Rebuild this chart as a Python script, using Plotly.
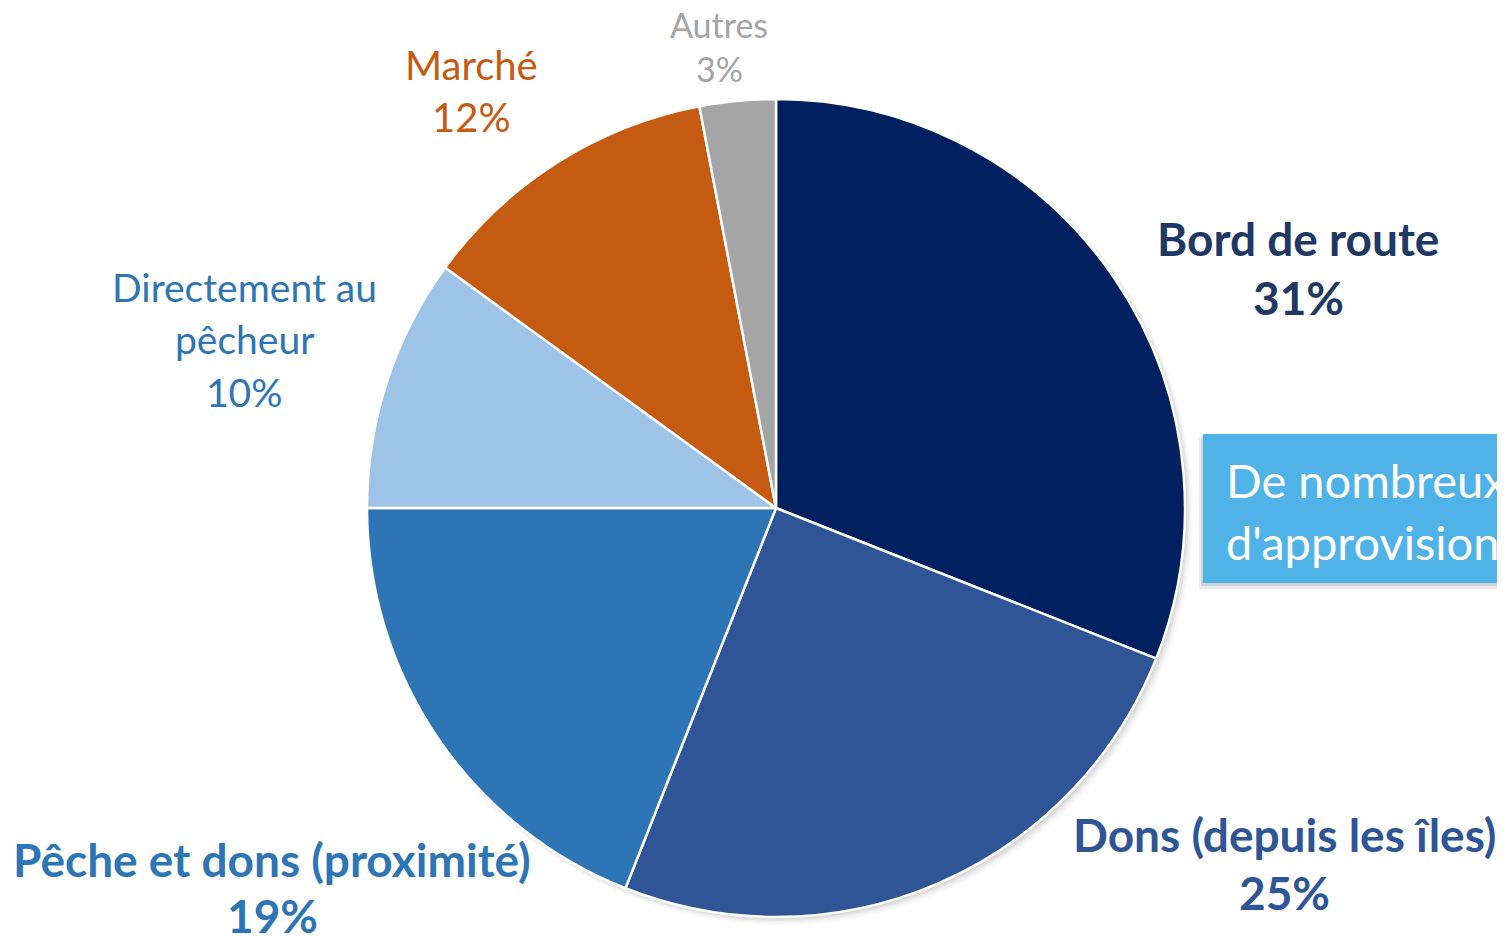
import plotly.graph_objects as go

# the page body has an 8px margin; the figure is offset so page == reference pixels
OFF = 8
W, H = 1505 - OFF, 936 - OFF

categories = ["Bord de route", "Dons (depuis les îles)", "Pêche et dons (proximité)",
              "Directement au pêcheur", "Marché", "Autres"]
values = [31, 25, 19, 10, 12, 3]
slice_colors = ["#012060", "#2F5597", "#2E75B6", "#9DC3E6", "#C55A11", "#A5A5A5"]

# label lines per category (text only)
label_lines = [
    ["Bord de route", "31%"],
    ["Dons (depuis les îles)", "25%"],
    ["Pêche et dons (proximité)", "19%"],
    ["Directement au", "pêcheur", "10%"],
    ["Marché", "12%"],
    ["Autres", "3%"],
]
label_colors = ["#203864", "#2F5597", "#2E75B6", "#2E75B6", "#C55A11", "#A5A5A5"]
label_bold = [True, True, True, False, False, False]

box_lines = ["De nombreux modes", "d'approvisionnement"]

# layout (page pixels)
cx, cy, r = 776, 508, 409
label_pos = [
    (1298, [239, 297]),
    (1284, [834, 892]),
    (272, [859, 915]),
    (244, [287, 339, 392]),
    (471, [65, 117]),
    (719, [24, 68]),
]
label_size = [46, 46, 46, 39, 40, 34]

FONT = "Lato"

def px(x):
    return (x - OFF) / W

def py(y):
    return 1 - (y - OFF) / H

fig = go.Figure()
fig.add_trace(go.Pie(
    labels=categories, values=values, sort=False, direction="clockwise", rotation=0,
    marker=dict(colors=slice_colors, line=dict(color="white", width=2.5)),
    textinfo="none", hoverinfo="label+percent", showlegend=False,
    domain=dict(x=[px(cx - r), px(cx + r)], y=[py(cy + r), py(cy - r)]),
))

annotations = []
for lines, (lx, ys), col, b, fs in zip(label_lines, label_pos, label_colors, label_bold, label_size):
    for t, yy in zip(lines, ys):
        annotations.append(dict(
            x=px(lx), y=py(yy), xref="paper", yref="paper", xanchor="center", yanchor="middle",
            text=f"<b>{t}</b>" if b else t, showarrow=False,
            font=dict(family=FONT, size=fs, color=col),
        ))

shapes = []
# soft shadow behind the pie
for d, a in [(8, 0.025), (6, 0.035), (4, 0.05), (2, 0.06)]:
    shapes.append(dict(type="circle", xref="paper", yref="paper",
                       x0=px(cx - r + 2), x1=px(cx + r + d), y0=py(cy + r + d), y1=py(cy - r + 2),
                       fillcolor=f"rgba(0,0,0,{a})", line=dict(width=0), layer="below"))

# text box on the right (cut off by the figure edge)
shapes += [
    dict(type="rect", xref="paper", yref="paper", x0=px(1199), x1=px(1530), y0=py(589), y1=py(438),
         fillcolor="rgba(0,0,0,0.08)", line=dict(width=0), layer="below"),
    dict(type="rect", xref="paper", yref="paper", x0=px(1201), x1=px(1530), y0=py(586), y1=py(436),
         fillcolor="rgba(0,0,0,0.10)", line=dict(width=0), layer="below"),
    dict(type="rect", xref="paper", yref="paper", x0=px(1203), x1=px(1530), y0=py(583), y1=py(434),
         fillcolor="#4FB3E7", line=dict(width=0), layer="above"),
]
for t, yy in zip(box_lines, [480, 542]):
    annotations.append(dict(
        x=px(1224), y=py(yy), xref="paper", yref="paper", xanchor="left", yanchor="middle",
        text=t, showarrow=False, font=dict(family=FONT, size=47, color="white"),
    ))

fig.update_layout(
    width=W, height=H, margin=dict(l=0, r=0, t=0, b=0),
    paper_bgcolor="white", plot_bgcolor="white",
    annotations=annotations, shapes=shapes,
)

fig.write_html("out.html")
